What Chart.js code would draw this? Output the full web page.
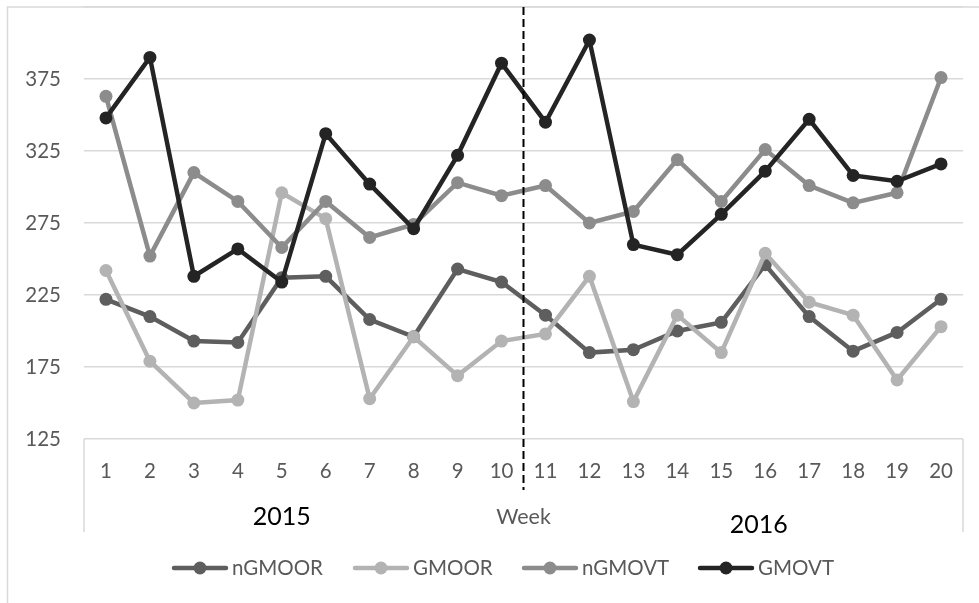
<!DOCTYPE html>
<html>
<head>
<meta charset="utf-8">
<script src="https://cdn.jsdelivr.net/npm/chart.js@4/dist/chart.umd.min.js"></script>
<style>
html, body { margin: 0; padding: 0; background: #fff; }
canvas { display: block; }
</style>
</head>
<body>
<canvas id="chart_weeklyGmo" width="979" height="603"></canvas>
<script>
// values
var weeks = ['1', '2', '3', '4', '5', '6', '7', '8', '9', '10', '11', '12', '13', '14', '15', '16', '17', '18', '19', '20'];
var nGMOOR = [222, 210, 193, 192, 237, 238, 208, 196, 243, 234, 211, 185, 187, 200, 206, 246, 210, 186, 199, 222];
var GMOOR = [242, 179, 150, 152, 296, 278, 153, 196, 169, 193, 198, 238, 151, 211, 185, 254, 220, 211, 166, 203];
var nGMOVT = [363, 252, 310, 290, 258, 290, 265, 274, 303, 294, 301, 275, 283, 319, 290, 326, 301, 289, 296, 376];
var GMOVT = [348, 390, 238, 257, 234, 337, 302, 271, 322, 386, 345, 402, 260, 253, 281, 311, 347, 308, 304, 316];
var yTickLabels = [125, 175, 225, 275, 325, 375];
var yearLabels = ['2015', '2016'];
var axisTitle = 'Week';

var gridColor = '#d9d9d9';
var textColor = '#595959';
var fontFamily = 'Lato, "Open Sans", sans-serif';

function series(label, data, color, order) {
    return {
        label: label,
        data: data,
        borderColor: color,
        backgroundColor: color,
        borderWidth: 4.5,
        pointRadius: 6.5,
        pointHoverRadius: 6.5,
        pointBorderWidth: 0,
        pointBackgroundColor: color,
        tension: 0,
        order: order
    };
}

var decorations = {
    id: 'decorations',
    afterDraw: function (chart) {
        var ctx = chart.ctx;
        var area = chart.chartArea;
        var x = chart.scales.x;
        ctx.save();

        // outer frame
        ctx.strokeStyle = gridColor;
        ctx.lineWidth = 1.5;
        ctx.beginPath();
        ctx.moveTo(7.5, chart.height);
        ctx.lineTo(7.5, 7);
        ctx.lineTo(chart.width, 7);
        ctx.stroke();

        // category axis box sides
        ctx.beginPath();
        ctx.moveTo(area.left, area.bottom);
        ctx.lineTo(area.left, 532);
        ctx.moveTo(area.right, area.bottom);
        ctx.lineTo(area.right, 532);
        ctx.stroke();

        // dashed divider between week 10 and 11
        var divX = (x.getPixelForValue(9) + x.getPixelForValue(10)) / 2;
        ctx.strokeStyle = '#000';
        ctx.lineWidth = 2;
        ctx.setLineDash([8, 4]);
        ctx.beginPath();
        ctx.moveTo(divX, area.top);
        ctx.lineTo(divX, 490);
        ctx.stroke();
        ctx.setLineDash([]);

        // year labels and axis title
        ctx.textAlign = 'center';
        ctx.textBaseline = 'middle';
        ctx.fillStyle = '#000';
        ctx.font = '25px ' + fontFamily;
        ctx.fillText(yearLabels[0], x.getPixelForValue(4), 517);
        ctx.fillText(yearLabels[1], x.getPixelForValue(14.85), 525);
        ctx.fillStyle = textColor;
        ctx.font = '21.5px ' + fontFamily;
        ctx.fillText(axisTitle, divX, 517);

        // legend
        var legendX = [172, 353, 522, 698];
        var legendY = 568;
        ctx.textAlign = 'left';
        ctx.font = '20.5px ' + fontFamily;
        chart.data.datasets.forEach(function (ds, i) {
            var lx = legendX[i];
            ctx.strokeStyle = ds.borderColor;
            ctx.fillStyle = ds.borderColor;
            ctx.lineWidth = 4.5;
            ctx.lineCap = 'round';
            ctx.beginPath();
            ctx.moveTo(lx + 2, legendY);
            ctx.lineTo(lx + 54, legendY);
            ctx.stroke();
            ctx.beginPath();
            ctx.arc(lx + 28, legendY, 6.5, 0, Math.PI * 2);
            ctx.fill();
            ctx.fillStyle = textColor;
            ctx.fillText(ds.label, lx + 60, legendY);
        });
        ctx.restore();
    }
};

var chart_weeklyGmo = new Chart(document.getElementById('chart_weeklyGmo'), {
    type: 'line',
    data: {
        labels: weeks,
        datasets: [
            series('nGMOOR', nGMOOR, '#5e5e5e', 3),
            series('GMOOR', GMOOR, '#b3b3b3', 2),
            series('nGMOVT', nGMOVT, '#8c8c8c', 1),
            series('GMOVT', GMOVT, '#242424', 0)
        ]
    },
    options: {
        animation: false,
        responsive: false,
        events: [],
        layout: {
            padding: { left: 8, top: 7, right: 16, bottom: 0 }
        },
        plugins: {
            legend: { display: false },
            tooltip: { enabled: false }
        },
        scales: {
            x: {
                type: 'category',
                offset: true,
                grid: { display: false, drawTicks: false },
                border: { display: false },
                ticks: {
                    color: textColor,
                    font: { family: fontFamily, size: 20.5 },
                    padding: 20,
                    maxRotation: 0,
                    autoSkip: false
                },
                afterFit: function (scale) {
                    scale.height = 164;
                    scale.paddingLeft = 0;
                    scale.paddingRight = 0;
                }
            },
            y: {
                type: 'linear',
                min: 125,
                max: 425,
                grid: { color: gridColor, lineWidth: 1.5, drawTicks: false },
                border: { display: false },
                ticks: {
                    stepSize: 50,
                    color: textColor,
                    font: { family: fontFamily, size: 20.5 },
                    padding: 23,
                    callback: function (v) { return yTickLabels.indexOf(v) >= 0 ? v : ''; }
                },
                afterFit: function (scale) {
                    scale.width = 76;
                    scale.paddingTop = 0;
                    scale.paddingBottom = 0;
                }
            }
        }
    },
    plugins: [decorations]
});
</script>
</body>
</html>
